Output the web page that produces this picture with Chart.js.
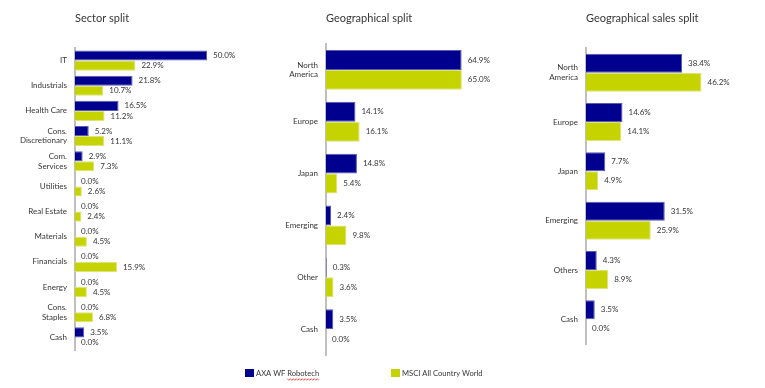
<!DOCTYPE html>
<html>
<head>
<meta charset="utf-8">
<script src="https://cdn.jsdelivr.net/npm/chart.js@4"></script>
<style>
html, body { margin: 0; padding: 0; background: #fff; }
body { width: 765px; height: 388px; position: relative; overflow: hidden; }
canvas { position: absolute; top: 0; }
</style>
</head>
<body>
<canvas id="sector" width="240" height="388" style="left:0"></canvas>
<canvas id="geo" width="270" height="388" style="left:240px"></canvas>
<canvas id="sales" width="255" height="388" style="left:510px"></canvas>
<script>
var seriesNames = ['AXA WF Robotech', 'MSCI All Country World'];

var sectorLabels = ['IT', 'Industrials', 'Health Care', ['Cons.', 'Discretionary'], ['Com.', 'Services'], 'Utilities',
  'Real Estate', 'Materials', 'Financials', 'Energy', ['Cons.', 'Staples'], 'Cash'];
var sectorFund = [50.0, 21.8, 16.5, 5.2, 2.9, 0.0, 0.0, 0.0, 0.0, 0.0, 0.0, 3.5];
var sectorIndex = [22.9, 10.7, 11.2, 11.1, 7.3, 2.6, 2.4, 4.5, 15.9, 4.5, 6.8, 0.0];

var geoLabels = [['North', 'America'], 'Europe', 'Japan', 'Emerging', 'Other', 'Cash'];
var geoFund = [64.9, 14.1, 14.8, 2.4, 0.3, 3.5];
var geoIndex = [65.0, 16.1, 5.4, 9.8, 3.6, 0.0];

var salesLabels = [['North', 'America'], 'Europe', 'Japan', 'Emerging', 'Others', 'Cash'];
var salesFund = [38.4, 14.6, 7.7, 31.5, 4.3, 3.5];
var salesIndex = [46.2, 14.1, 4.9, 25.9, 8.9, 0.0];

var FONT = 'Lato, "Liberation Sans", sans-serif';
var TEXT = '#363636';
var blue = '#00008F', blueEdge = '#5A5AB4';
var green = '#C5D300', greenEdge = '#DDE37A';

Chart.defaults.font.family = FONT;
Chart.defaults.color = TEXT;

// percentage next to the end of every bar
var valueLabels = {
  id: 'valueLabels',
  afterDatasetsDraw: function (chart) {
    var ctx = chart.ctx;
    ctx.save();
    ctx.font = '8px ' + FONT;
    ctx.fillStyle = TEXT;
    ctx.textAlign = 'left';
    ctx.textBaseline = 'middle';
    chart.data.datasets.forEach(function (ds, i) {
      chart.getDatasetMeta(i).data.forEach(function (bar, j) {
        ctx.fillText(ds.data[j].toFixed(1) + '%', bar.x + 6, bar.y);
      });
    });
    ctx.restore();
  }
};

// shared legend under the middle chart
var bottomLegend = {
  id: 'bottomLegend',
  afterDraw: function (chart) {
    var ctx = chart.ctx;
    var starts = [5, 151];
    ctx.save();
    ctx.font = '7.6px ' + FONT;
    ctx.textBaseline = 'middle';
    chart.data.datasets.forEach(function (ds, i) {
      var x = starts[i];
      ctx.fillStyle = ds.backgroundColor;
      ctx.fillRect(x, 369, 9, 8);
      ctx.fillStyle = TEXT;
      ctx.fillText(ds.label, x + 11, 374);
    });
    // the red spell-check squiggle under "Robotech"
    var x0 = starts[0] + 11 + ctx.measureText('AXA WF ').width;
    var x1 = x0 + ctx.measureText('Robotech').width;
    ctx.strokeStyle = '#E03030';
    ctx.lineWidth = 0.8;
    ctx.beginPath();
    for (var x = x0, k = 0; x <= x1; x += 1.5, k++) {
      var y = 379.5 + (k % 2 ? 0.8 : -0.8);
      if (k === 0) ctx.moveTo(x, y); else ctx.lineTo(x, y);
    }
    ctx.stroke();
    ctx.restore();
  }
};

function makeChart(id, title, labels, fund, index, frame) {
  return new Chart(document.getElementById(id), {
    type: 'bar',
    data: {
      labels: labels,
      datasets: [
        { label: seriesNames[0], data: fund, backgroundColor: blue, borderColor: blueEdge, borderWidth: 1 },
        { label: seriesNames[1], data: index, backgroundColor: green, borderColor: greenEdge, borderWidth: 1 }
      ]
    },
    options: {
      indexAxis: 'y',
      responsive: false,
      animation: false,
      datasets: { bar: { categoryPercentage: frame.cat, barPercentage: 1 } },
      layout: { padding: { top: 0, left: 0, right: frame.right, bottom: frame.bottom } },
      plugins: {
        legend: { display: false },
        tooltip: { enabled: false },
        title: {
          display: true, text: title, align: 'start', fullSize: false, color: TEXT,
          font: { size: 11, weight: 'normal' },
          padding: { top: 12, bottom: frame.gap }
        }
      },
      scales: {
        x: { display: false, min: 0, max: frame.max },
        y: {
          grid: { display: false, drawTicks: false },
          border: { display: true, color: '#BFBFBF', width: 2 },
          ticks: { padding: 8, autoSkip: false, color: TEXT, font: { size: 8 } },
          afterFit: function (scale) { scale.width = frame.left; }
        }
      }
    },
    plugins: frame.legend ? [valueLabels, bottomLegend] : [valueLabels]
  });
}

makeChart('sector', 'Sector split', sectorLabels, sectorFund, sectorIndex,
  { left: 75, right: 6.6, bottom: 38, gap: 22.8, max: 60, cat: 0.8 });
makeChart('geo', 'Geographical split', geoLabels, geoFund, geoIndex,
  { left: 86, right: 37.7, bottom: 33, gap: 18.8, max: 70, cat: 0.77, legend: true });
makeChart('sales', 'Geographical sales split', salesLabels, salesFund, salesIndex,
  { left: 76, right: 29, bottom: 44, gap: 22.8, max: 60, cat: 0.77 });
</script>
</body>
</html>
